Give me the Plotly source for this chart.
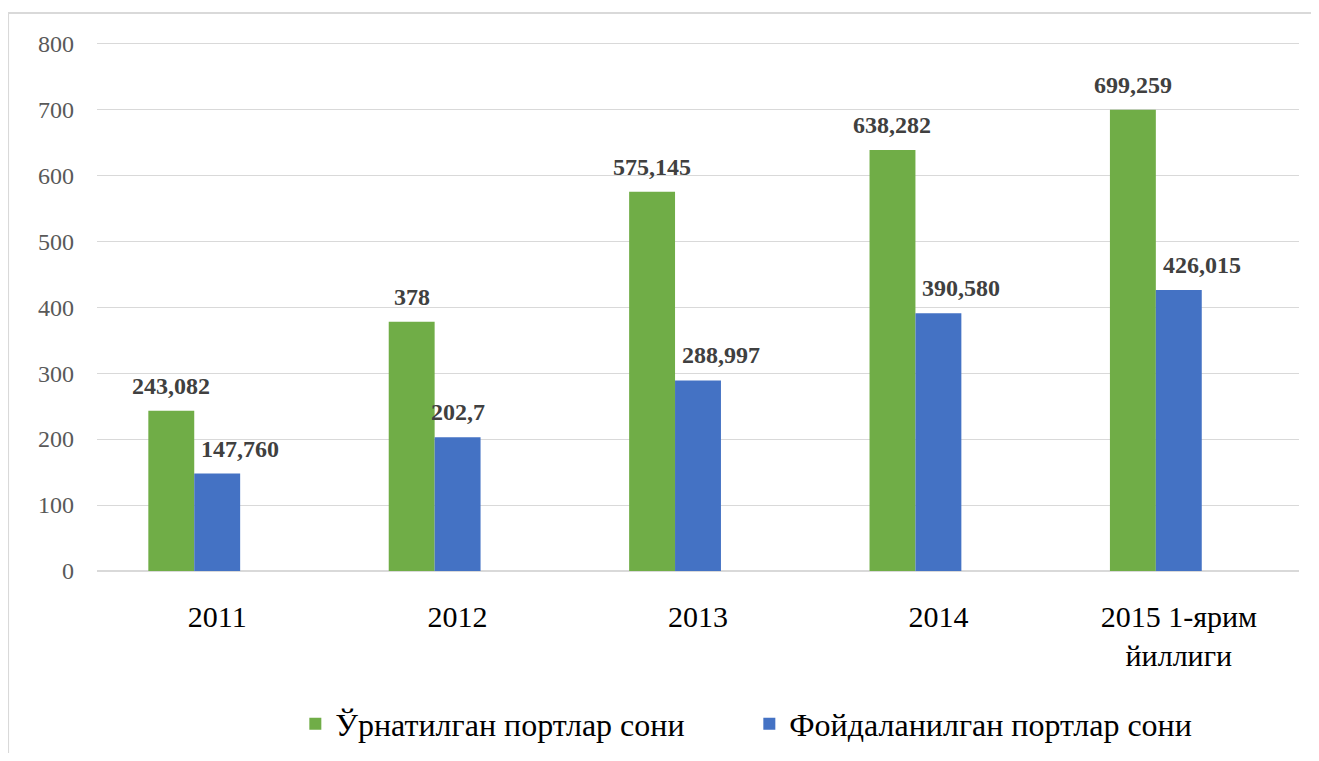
import plotly.graph_objects as go

categories = ["2011", "2012", "2013", "2014", "2015 1-ярим<br>йиллиги"]
installed = [243.082, 378, 575.145, 638.282, 699.259]
used = [147.760, 202.7, 288.997, 390.580, 426.015]
installed_labels = ["243,082", "378", "575,145", "638,282", "699,259"]
used_labels = ["147,760", "202,7", "288,997", "390,580", "426,015"]
series_names = ["Ўрнатилган портлар сони", "Фойдаланилган портлар сони"]
y_ticks = [0, 100, 200, 300, 400, 500, 600, 700, 800]

GREEN = "#70ad47"
BLUE = "#4472c4"
FONT = "Times New Roman, Liberation Serif, serif"
BW = 0.191

fig = go.Figure()
fig.add_trace(go.Bar(x=categories, y=installed, name=series_names[0], width=BW, offset=-1.5 * BW,
                     marker=dict(color=GREEN, line=dict(width=0))))
fig.add_trace(go.Bar(x=categories, y=used, name=series_names[1], width=BW, offset=-0.5 * BW,
                     marker=dict(color=BLUE, line=dict(width=0))))

LBL = dict(family=FONT, size=24, color="#404040", weight="bold")
ann = []
for i, (v, t) in enumerate(zip(installed, installed_labels)):
    ann.append(dict(x=i, y=v, text=t, showarrow=False, xshift=-46, yshift=10,
                    yanchor="bottom", font=LBL))
for i, (v, t) in enumerate(zip(used, used_labels)):
    xs = 0 if i == 1 else 23
    ann.append(dict(x=i, y=v, text=t, showarrow=False, xshift=xs, yshift=10,
                    yanchor="bottom", font=LBL))

fig.update_layout(
    width=1303, height=745,
    margin=dict(l=89, r=12, t=34, b=182),
    paper_bgcolor="white", plot_bgcolor="white",
    barmode="overlay",
    font=dict(family=FONT),
    showlegend=True,
    legend=dict(orientation="h", x=0.165, xanchor="left", yref="container", y=0.039, yanchor="middle",
                font=dict(family=FONT, size=32, color="#000000"),
                itemwidth=30, entrywidthmode="pixels", entrywidth=409),
    annotations=ann,
    shapes=[
        dict(type="line", xref="paper", yref="paper", x0=-0.074, x1=1.02, y0=1.055, y1=1.055,
             line=dict(color="#d9d9d9", width=2)),
        dict(type="line", xref="paper", yref="paper", x0=-0.074, x1=-0.074, y0=1.055, y1=-0.4,
             line=dict(color="#d9d9d9", width=2)),
    ],
)
fig.update_yaxes(range=[0, 802], tickvals=y_ticks, showgrid=True, gridcolor="#d9d9d9", gridwidth=1,
                 zeroline=True, zerolinecolor="#d9d9d9", showline=False,
                 ticklabelstandoff=22,
                 tickfont=dict(family=FONT, size=24, color="#595959"))
fig.update_xaxes(type="category", range=[-0.5, 4.5], showline=False, showgrid=False, ticks="",
                 ticklabelstandoff=25, automargin=False,
                 tickfont=dict(family=FONT, size=30, color="#000000"))

fig.write_html("out.html")
